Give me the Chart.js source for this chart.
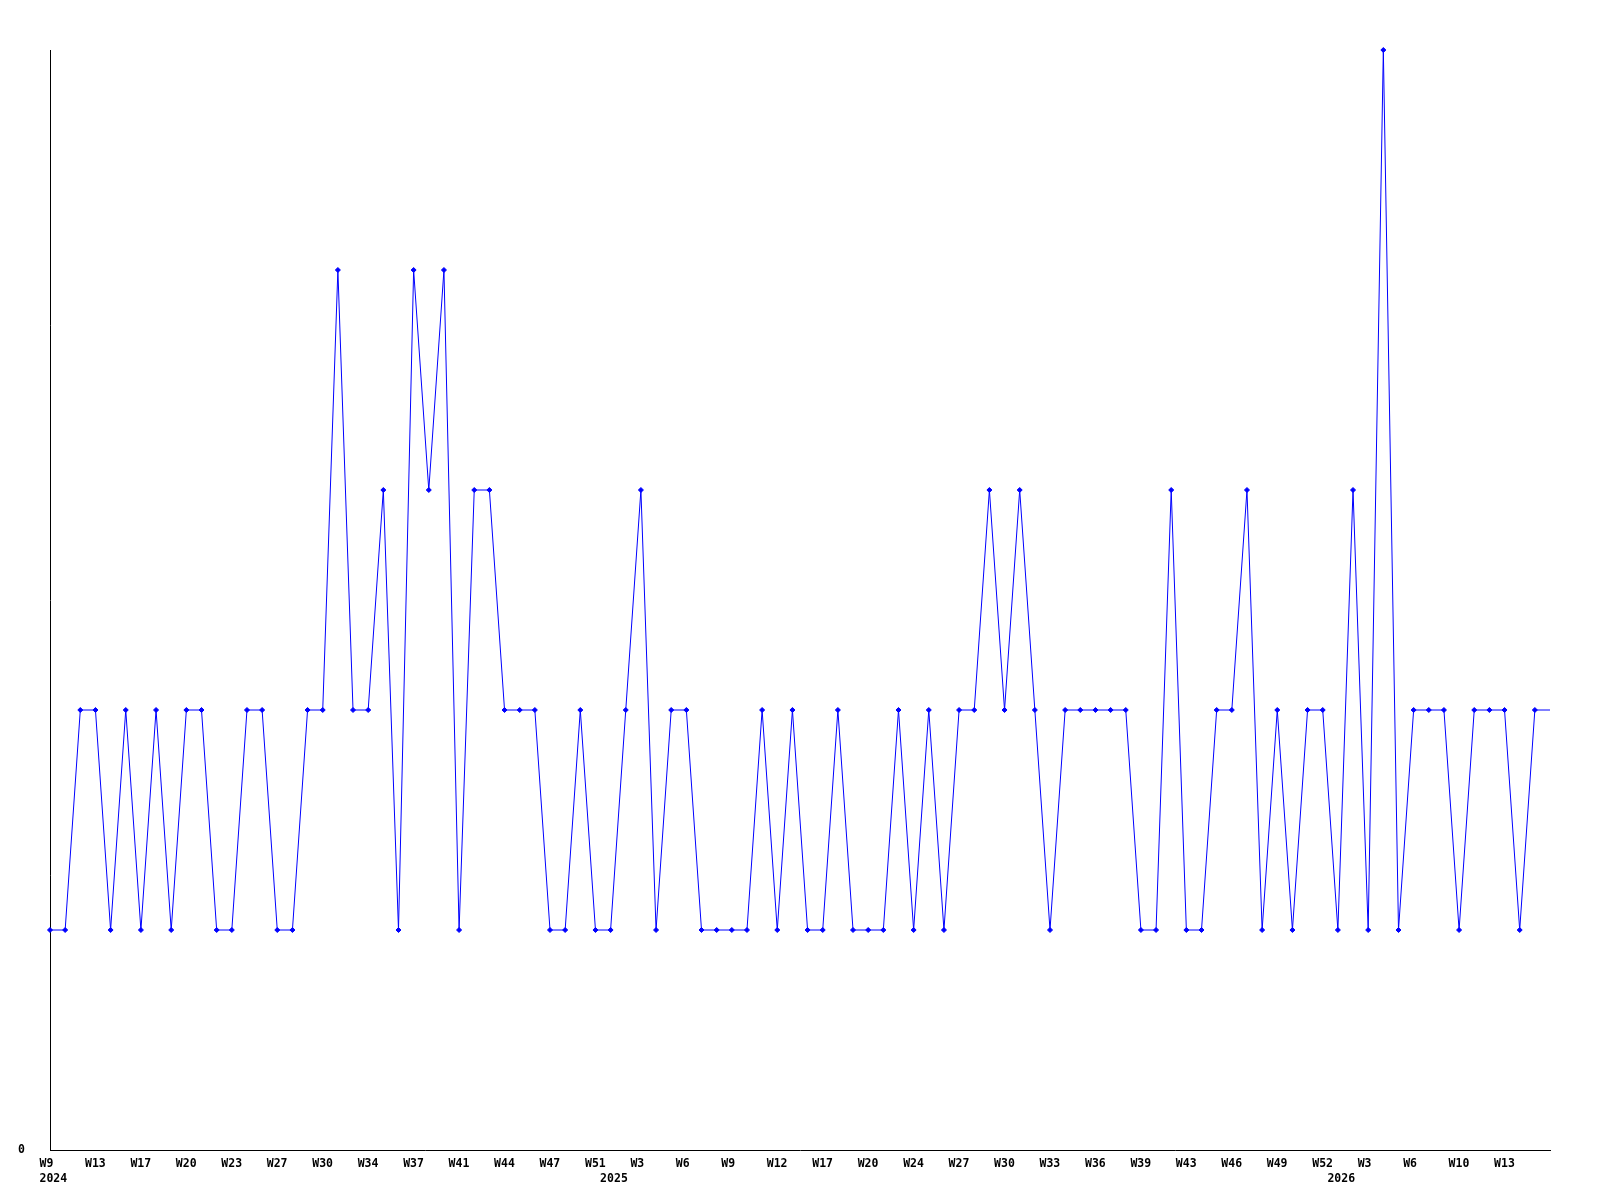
<!DOCTYPE html>
<html>
<head>
<meta charset="utf-8">
<script src="https://cdn.jsdelivr.net/npm/chart.js@4.4.1/dist/chart.umd.min.js"></script>
<style>
  html, body { margin: 0; padding: 0; background: #fff; }
  #wrap { width: 1600px; height: 1200px; }
</style>
</head>
<body>
<div id="wrap"><canvas id="weekChart"></canvas></div>
<script>
// one value per point, left to right
const values = [
    1, 1, 2, 2, 1, 2, 1, 2, 1, 2,
    2, 1, 1, 2, 2, 1, 1, 2, 2, 4,
    2, 2, 3, 1, 4, 3, 4, 1, 3, 3,
    2, 2, 2, 1, 1, 2, 1, 1, 2, 3,
    1, 2, 2, 1, 1, 1, 1, 2, 1, 2,
    1, 1, 2, 1, 1, 1, 2, 1, 2, 1,
    2, 2, 3, 2, 3, 2, 1, 2, 2, 2,
    2, 2, 1, 1, 3, 1, 1, 2, 2, 3,
    1, 2, 1, 2, 2, 1, 3, 1, 5, 1,
    2, 2, 2, 1, 2, 2, 2, 1, 2, 2
];

// a week label on every third point
const weekStep = 3;
const weekLabels = ['W9', 'W13', 'W17', 'W20', 'W23', 'W27', 'W30', 'W34', 'W37', 'W41', 'W44',
    'W47', 'W51', 'W3', 'W6', 'W9', 'W12', 'W17', 'W20', 'W24', 'W27', 'W30', 'W33',
    'W36', 'W39', 'W43', 'W46', 'W49', 'W52', 'W3', 'W6', 'W10', 'W13'];
// year labels: point index where each year starts
const yearTicks = [0, 37, 85];
const yearLabels = ['2024', '2025', '2026'];

// merge week and year labels into one tick list
var xTicks = weekLabels.map(function (w, i) {
    return { value: i * weekStep, label: [w] };
});
yearTicks.forEach(function (v, i) {
    var t = xTicks.find(function (k) { return k.value === v; });
    if (t) {
        t.label.push(yearLabels[i]);
    } else {
        xTicks.push({ value: v, label: ['', yearLabels[i]] });
    }
});
xTicks.sort(function (a, b) { return a.value - b.value; });

var points = values.map(function (v, i) { return { x: i, y: v }; });
var lastIndex = values.length - 1;

var tickFont = { family: '"DejaVu Sans Mono", monospace', size: 11.5, weight: 'bold', lineHeight: 15.5 / 11.5 };

var ctx = document.getElementById('weekChart').getContext('2d');
new Chart(ctx, {
    type: 'line',
    data: {
        datasets: [{
            data: points,
            borderColor: '#0000ff',
            backgroundColor: '#0000ff',
            borderWidth: 1,
            tension: 0,
            fill: false,
            pointStyle: 'rectRot',
            pointRadius: function (c) { return c.dataIndex === lastIndex ? 0 : 2.5; },
            pointBorderWidth: 1,
            clip: false
        }]
    },
    options: {
        responsive: true,
        maintainAspectRatio: false,
        animation: false,
        events: [],
        layout: { padding: { left: 0, right: 50, top: 50, bottom: 0 } },
        plugins: {
            legend: { display: false },
            tooltip: { enabled: false }
        },
        scales: {
            x: {
                type: 'linear',
                min: 0,
                max: lastIndex,
                grid: { display: false, drawTicks: false },
                border: { display: true, color: '#000', width: 1 },
                afterBuildTicks: function (scale) {
                    scale.ticks = xTicks.map(function (t) { return { value: t.value }; });
                },
                afterFit: function (scale) { scale.height = 50; },
                ticks: {
                    autoSkip: false,
                    maxRotation: 0,
                    align: 'start',
                    labelOffset: -10.5,
                    padding: 6,
                    color: '#000',
                    font: tickFont,
                    callback: function (value, index) { return xTicks[index].label; }
                }
            },
            y: {
                min: 0,
                max: 5,
                grid: { display: false, drawTicks: false },
                border: { display: true, color: '#000', width: 1 },
                afterBuildTicks: function (scale) { scale.ticks = [{ value: 0 }]; },
                afterFit: function (scale) { scale.width = 50; },
                ticks: {
                    padding: 25,
                    color: '#000',
                    font: tickFont,
                    callback: function (value) { return String(value); }
                }
            }
        }
    }
});
</script>
</body>
</html>
